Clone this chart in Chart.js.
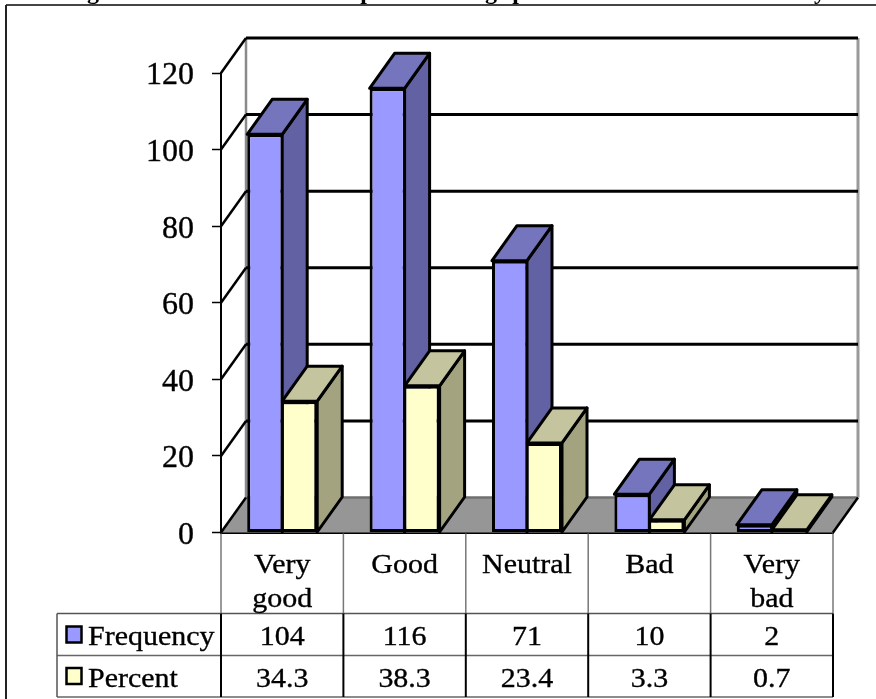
<!DOCTYPE html>
<html>
<head>
<meta charset="utf-8">
<title>Frequency and percent</title>
<style>
  html, body { margin: 0; padding: 0; background: #fff; overflow: hidden; }
  canvas { display: block; }
</style>
<script src="https://cdn.jsdelivr.net/npm/chart.js@4"></script>
</head>
<body>
<canvas id="myChart" width="876" height="699"></canvas>
<script>
const categories = ['Very good', 'Good', 'Neutral', 'Bad', 'Very bad']
const frequency = [104, 116, 71, 10, 2]
const percent = [34.3, 38.3, 23.4, 3.3, 0.7]
const yTicks = [0, 20, 40, 60, 80, 100, 120]

// only the descenders of the heading stay inside the page
const headingLetters = [['g', 93], ['p', 367], ['g', 491], ['/', 506], ['p', 519], ['y', 820]]

const serif = 'Liberation Serif'
const depthX = 25
const depthY = -35

const faces = [
  { front: '#9999FF', top: '#7575BD', side: '#6161A3' },
  { front: '#FFFFCC', top: '#C4C49E', side: '#A3A380' }
]

function polygon(ctx, points, fill, stroke, width) {
  ctx.beginPath()
  points.forEach((p, i) => i ? ctx.lineTo(p[0], p[1]) : ctx.moveTo(p[0], p[1]))
  ctx.closePath()
  if (fill) {
    ctx.fillStyle = fill
    ctx.fill()
  }
  if (stroke) {
    ctx.strokeStyle = stroke
    ctx.lineWidth = width
    ctx.lineJoin = 'round'
    ctx.stroke()
  }
}

function line(ctx, x1, y1, x2, y2, color, width) {
  ctx.beginPath()
  ctx.moveTo(x1, y1)
  ctx.lineTo(x2, y2)
  ctx.strokeStyle = color
  ctx.lineWidth = width
  ctx.stroke()
}

// the table text is a little wider than the font, so it is scaled in x
function tableText(ctx, text, x, y, align) {
  const stretch = 1.07
  ctx.save()
  ctx.translate(x, y)
  ctx.scale(stretch, 1)
  ctx.font = '28px "' + serif + '"'
  ctx.fillStyle = '#000'
  ctx.strokeStyle = '#000'
  ctx.lineWidth = 0.35
  ctx.textAlign = align
  ctx.textBaseline = 'alphabetic'
  ctx.fillText(text, 0, 0)
  ctx.strokeText(text, 0, 0)
  ctx.restore()
}

const box3d = {
  id: 'box3d',
  // walls, floor and the top and side of every bar
  beforeDatasetsDraw(chart) {
    const ctx = chart.ctx
    const { left, right, bottom } = chart.chartArea
    const y = chart.scales.y
    const ctop = y.getPixelForValue(yTicks[yTicks.length - 1])
    ctx.save()
    polygon(ctx, [[left, bottom], [left + depthX, bottom + depthY], [right + depthX, bottom + depthY], [right, bottom]], '#969696')
    line(ctx, left + depthX, bottom + depthY, right + depthX, bottom + depthY, '#6f6f6f', 2.5)
    line(ctx, left + depthX, ctop + depthY, left + depthX, bottom + depthY, '#8a8a8a', 2.5)
    line(ctx, right + depthX, ctop + depthY, right + depthX, bottom + depthY, '#9a9a9a', 3)
    yTicks.forEach(v => {
      const py = y.getPixelForValue(v)
      line(ctx, left, py, left + depthX, py + depthY, '#000', 2.5)
      if (v > 0) line(ctx, left + depthX, py + depthY, right + depthX, py + depthY, '#000', 3)
    })
    line(ctx, right, bottom, right + depthX, bottom + depthY, '#000', 2.5)

    categories.forEach((c, i) => {
      chart.data.datasets.forEach((ds, d) => {
        const bar = chart.getDatasetMeta(d).data[i]
        const x0 = bar.x - bar.width / 2
        const x1 = bar.x + bar.width / 2
        const t = bar.y
        const b = bar.base
        polygon(ctx, [[x1, t], [x1 + depthX, t + depthY], [x1 + depthX, b + depthY], [x1, b]], faces[d].side, '#000', 3)
        polygon(ctx, [[x0, t], [x0 + depthX, t + depthY], [x1 + depthX, t + depthY], [x1, t]], faces[d].top, '#000', 3)
      })
    })
    ctx.restore()
  },
  // data table under the plot, outer frame and cut off heading
  afterDraw(chart) {
    const ctx = chart.ctx
    const { left, right, bottom } = chart.chartArea
    const x = chart.scales.x
    const step = (right - left) / categories.length
    const rowA = 613.5
    const rowB = 655.5
    const rowC = 697
    const keyX = 57
    ctx.save()

    line(ctx, keyX, rowA, right, rowA, '#555', 1.5)
    line(ctx, keyX, rowB, right, rowB, '#666', 1.5)
    line(ctx, keyX, rowC, right, rowC, '#666', 1.5)
    line(ctx, keyX, rowA, keyX, rowC, '#555', 1.5)
    for (let i = 0; i <= categories.length; i++) {
      const px = left + i * step
      line(ctx, px, bottom + 1, px, rowA, '#777', 1.5)
      line(ctx, px, rowA, px, rowC, '#000', 2)
    }

    categories.forEach((c, i) => {
      const px = x.getPixelForValue(i)
      c.split(' ').forEach((word, n) => tableText(ctx, word, px, 573 + n * 34, 'center'))
      tableText(ctx, String(frequency[i]), px, 645, 'center')
      tableText(ctx, String(percent[i]), px, 686.5, 'center')
    })

    chart.data.datasets.forEach((ds, d) => {
      const baseline = d ? 686.5 : 645
      ctx.fillStyle = ds.backgroundColor
      ctx.strokeStyle = '#000'
      ctx.lineWidth = 2.5
      ctx.fillRect(66.5, baseline - 18.5, 15, 16)
      ctx.strokeRect(66.5, baseline - 18.5, 15, 16)
      tableText(ctx, ds.label, 88, baseline, 'left')
    })

    line(ctx, 6, 5, 876, 5, '#444', 2)
    line(ctx, 6, 5, 6, 699, '#222', 2)

    ctx.font = 'bold 24px "' + serif + '"'
    ctx.fillStyle = '#000'
    ctx.textAlign = 'center'
    ctx.textBaseline = 'alphabetic'
    headingLetters.forEach(h => ctx.fillText(h[0], h[1], -1))
    ctx.restore()
  }
}

const ctx = document.getElementById('myChart').getContext('2d')
const barChart = new Chart(ctx, {
  type: 'bar',
  plugins: [box3d],
  data: {
    labels: categories,
    datasets: [{
      label: 'Frequency',
      data: frequency,
      backgroundColor: faces[0].front,
      borderColor: '#000',
      borderWidth: { top: 3, left: 3, bottom: 3, right: 1.75 },
      borderSkipped: false
    }, {
      label: 'Percent',
      data: percent,
      backgroundColor: faces[1].front,
      borderColor: '#000',
      borderWidth: { top: 3, left: 1.75, bottom: 3, right: 3 },
      borderSkipped: false
    }]
  },
  options: {
    responsive: false,
    animation: false,
    layout: { padding: { top: 73, right: 43, left: 0, bottom: 0 } },
    plugins: { legend: { display: false }, title: { display: false }, tooltip: { enabled: false } },
    datasets: { bar: { categoryPercentage: 0.572, barPercentage: 1 } },
    scales: {
      x: {
        grid: { display: false },
        border: { color: '#000', width: 3 },
        ticks: { display: false },
        afterFit(scale) { scale.height = 166.5 }
      },
      y: {
        min: yTicks[0],
        max: yTicks[yTicks.length - 1],
        grid: { drawOnChartArea: false, tickLength: 9, tickColor: '#000', tickWidth: 1.5 },
        border: { color: '#000', width: 2 },
        ticks: {
          stepSize: yTicks[1] - yTicks[0],
          padding: 18,
          color: '#000',
          textStrokeColor: '#000',
          textStrokeWidth: 0.35,
          // empty first line with a 6px line height moves the number 3px down
          callback: value => ['', String(value)],
          font: { family: serif, size: 32, lineHeight: '6px' }
        },
        afterFit(scale) { scale.width = 221 }
      }
    }
  }
})
</script>
</body>
</html>
